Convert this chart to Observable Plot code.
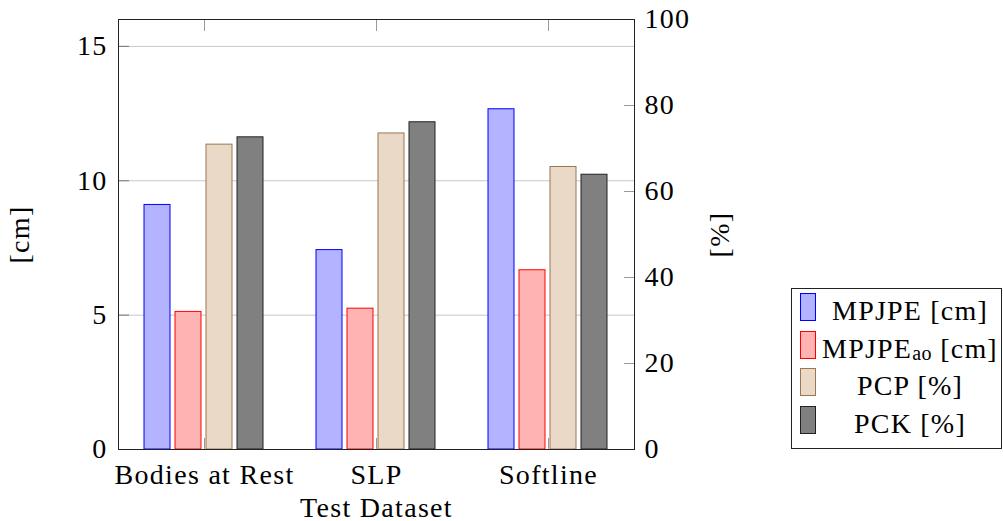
<!DOCTYPE html>
<html>
<head>
<meta charset="utf-8">
<script src="https://cdn.jsdelivr.net/npm/d3@7"></script>
<script src="https://cdn.jsdelivr.net/npm/@observablehq/plot@0.6"></script>
<style>
  body { margin: 0; background: #fff; }
  #wrap { position: relative; width: 1003px; height: 521px; font-family: "Liberation Serif", serif; color: #000; }
  #legend { position: absolute; left: 791px; top: 288px; width: 211px; height: 161px; border: 1px solid #222; box-sizing: border-box; background: #fff; }
  .row { position: absolute; left: 0; width: 100%; height: 28px; }
  .sw { position: absolute; left: 8px; top: 0; width: 14px; height: 26px; border: 1px solid; }
  .lab { position: absolute; left: 27px; right: 0; top: 4px; line-height: 27px; text-align: center; font-size: 28px; letter-spacing: 1.2px; white-space: nowrap; }
  .lab sub { font-size: 20px; vertical-align: -2px; letter-spacing: 0.5px; }
</style>
</head>
<body>
<div id="wrap"><div id="legend"></div></div>
<script>
// ---- data ----
const categories = ["Bodies at Rest", "SLP", "Softline"];
const seriesKeys = ["MPJPE", "MPJPE_ao", "PCP", "PCK"];
const seriesLabels = ["MPJPE [cm]", "MPJPE<sub>ao</sub> [cm]", "PCP [%]", "PCK [%]"];
const seriesUnits = ["cm", "cm", "%", "%"];
const mpjpe   = [9.10, 7.42, 12.66];   // cm
const mpjpeAo = [5.12, 5.24, 6.67];    // cm
const pcp     = [70.9, 73.5, 65.7];    // %
const pck     = [72.6, 76.1, 63.9];    // %
const cmTicks  = [0, 5, 10, 15];
const gridCm   = [5, 10, 15];
const pctTicks = [0, 20, 40, 60, 80, 100];
const fills   = ["#b3b3ff", "#ffb3b3", "#ead9c6", "#808080"];
const strokes = ["#0000ff", "#ff0000", "#9a7652", "#222222"];

const seriesValues = [mpjpe, mpjpeAo, pcp, pck];
const rows = [];
categories.forEach((c, i) => {
  seriesKeys.forEach((s, j) => {
    rows.push({category: c, series: s, unit: seriesUnits[j], value: seriesValues[j][i]});
  });
});
const cmMax = 16;                 // left axis 0–16 cm
const pctToCm = cmMax / 100;      // right axis 0–100 % shares the same height
const yOf = d => d.unit === "%" ? d.value * pctToCm : d.value;
const fillOf = Object.fromEntries(seriesKeys.map((s, j) => [s, fills[j]]));
const strokeOf = Object.fromEntries(seriesKeys.map((s, j) => [s, strokes[j]]));

const chart = Plot.plot({
  width: 1003,
  height: 521,
  marginLeft: 117,
  marginRight: 368,
  marginTop: 19,
  marginBottom: 72,
  style: {fontFamily: "'Liberation Serif', serif", fontSize: "28px", letterSpacing: "1.3px", color: "#000", background: "transparent", overflow: "visible"},
  fx: {domain: categories, padding: 0},
  x: {domain: seriesKeys, paddingInner: 0.156, paddingOuter: 0.78, axis: null},
  y: {domain: [0, cmMax], axis: null},
  color: {type: "identity"},
  marks: [
    Plot.gridY(gridCm, {stroke: "#c8c8c8", strokeOpacity: 1, strokeWidth: 1}),
    Plot.axisY({anchor: "left", ticks: cmTicks, tickSize: -11, tickFormat: () => "", stroke: "#777", label: null}),
    Plot.axisY({anchor: "right", ticks: pctTicks.map(p => p * pctToCm), tickSize: -11, tickFormat: () => "", stroke: "#999", label: null}),
    Plot.axisFx({anchor: "top", tickSize: -11, tickFormat: () => "", stroke: "#999", label: null}),
    Plot.axisFx({anchor: "bottom", tickSize: -11, tickFormat: () => "", stroke: "#999", label: null}),
    Plot.barY(rows, {fx: "category", x: "series", y: yOf, fill: d => fillOf[d.series], stroke: d => strokeOf[d.series], strokeWidth: 1}),
    Plot.axisY({anchor: "left", ticks: cmTicks, tickSize: 0, tickPadding: 11, fontSize: 28, fill: "#000", label: "[cm]", labelAnchor: "center", labelArrow: "none", labelOffset: 109}),
    Plot.axisY({anchor: "right", ticks: pctTicks.map(p => p * pctToCm), tickFormat: d => Math.round(d / pctToCm), tickSize: 0, tickPadding: 10, fontSize: 28, fill: "#000", label: "[%]", labelAnchor: "center", labelArrow: "none", labelOffset: 94}),
    Plot.axisFx({anchor: "bottom", tickSize: 0, tickPadding: 15, fontSize: 28, fill: "#000", label: "Test Dataset", labelAnchor: "center", labelArrow: "none", labelOffset: 67}),
    Plot.frame({anchor: "top", stroke: "#222"}),
    Plot.frame({anchor: "bottom", stroke: "#222"}),
    Plot.frame({anchor: "left", facetAnchor: "left", stroke: "#222"}),
    Plot.frame({anchor: "right", facetAnchor: "right", stroke: "#222"})
  ]
});
const wrap = document.getElementById("wrap");
wrap.insertBefore(chart, wrap.firstChild);

// ---- legend ----
const legend = document.getElementById("legend");
seriesKeys.forEach((s, j) => {
  const row = document.createElement("div");
  row.className = "row";
  row.style.top = (4 + j * 37.6) + "px";
  const sw = document.createElement("div");
  sw.className = "sw";
  sw.style.background = fills[j];
  sw.style.borderColor = strokes[j];
  const lab = document.createElement("div");
  lab.className = "lab";
  lab.innerHTML = seriesLabels[j];
  row.appendChild(sw);
  row.appendChild(lab);
  legend.appendChild(row);
});
</script>
</body>
</html>
